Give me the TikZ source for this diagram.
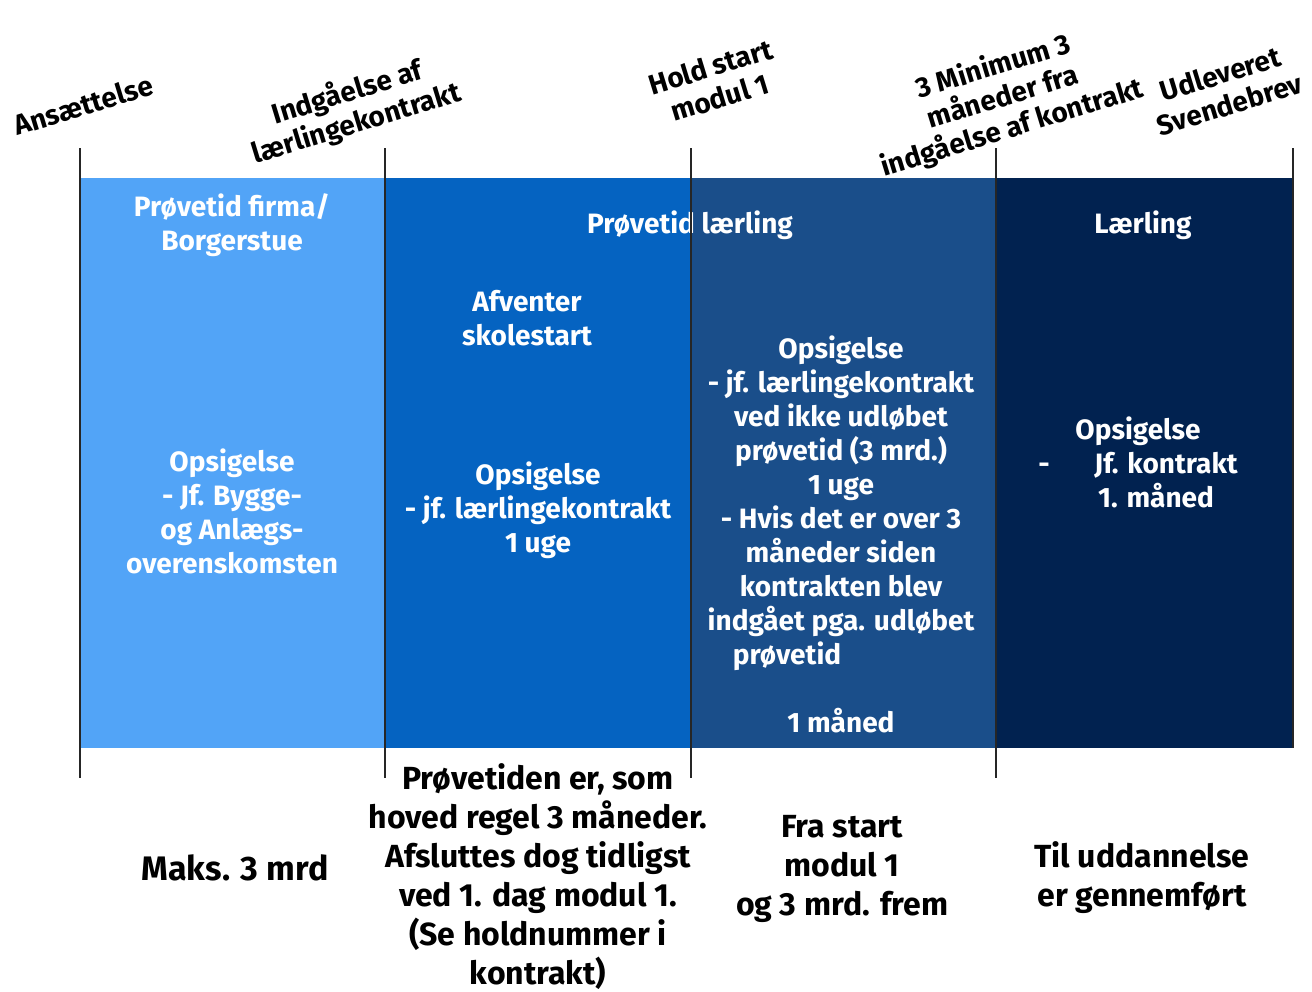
\documentclass[tikz,border=0pt]{standalone}
\usepackage{fontspec}
\setmainfont{Fira Sans}
\usetikzlibrary{positioning}

\definecolor{firmablue}{RGB}{82,164,247}
\definecolor{skoleblue}{RGB}{5,99,193}
\definecolor{modulblue}{RGB}{26,78,138}
\definecolor{laerlingblue}{RGB}{1,34,80}

\tikzset{
  intext/.style={text=white, font=\fontsize{14}{17}\selectfont\bfseries, align=center, inner sep=0pt},
  undertext/.style={text=black, font=\fontsize{16}{19.5}\selectfont\bfseries, align=center, inner sep=0pt},
  milestone/.style={text=black, font=\fontsize{14}{16}\selectfont\bfseries, align=center, rotate=17, inner sep=0pt},
  tick/.style={line width=0.9pt, black!85},
}

\begin{document}
\begin{tikzpicture}[x=0.5pt,y=-0.5pt]
    \useasboundingbox (0,0) rectangle (1312,991);
    % Points
    \coordinate (t0) at (80,148);
    \coordinate (t1) at (385,148);
    \coordinate (t2) at (691,148);
    \coordinate (t3) at (996,148);
    \coordinate (t4) at (1293,148);
    \coordinate (b0) at (80,778);
    \coordinate (b1) at (385,778);
    \coordinate (b2) at (691,778);
    \coordinate (b3) at (996,778);
    \coordinate (b4) at (1293,748);
    % Phases
    \fill[firmablue] (80,178) rectangle (385,748);
    \fill[skoleblue] (385,178) rectangle (691,748);
    \fill[modulblue] (691,178) rectangle (996,748);
    \fill[laerlingblue] (996,178) rectangle (1293,748);
    % Milestones
    \node[milestone] (ansat) at (83,105) {Ansættelse};
    \node[milestone] (kontrakt) at (352,108) {Indgåelse af\\lærlingekontrakt};
    \node[milestone] (holdstart) at (715,82) {Hold start\\modul 1};
    \node[milestone] (minimum) at (1003,98) {3 Minimum 3\\måneder fra\\indgåelse af kontrakt};
    \node[milestone] (svendebrev) at (1225,89) {Udleveret\\Svendebrev};
    % Labels in phases
    \node[intext] (firma) at (232,225) {Prøvetid firma/\\Borgerstue};
    \node[intext] (firmaops) at (232,511) {Opsigelse\\- Jf. Bygge-\\og Anlægs-\\overenskomsten};
    \node[intext] (proeve) at (690,225) {Prøvetid lærling};
    \node[intext] (afventer) at (527,318) {Afventer\\skolestart};
    \node[intext] (skoleops) at (538,510) {Opsigelse\\- jf. lærlingekontrakt\\1 uge};
    \node[intext] (modulops) at (841,534) {Opsigelse\\- jf. lærlingekontrakt\\ved ikke udløbet\\prøvetid (3 mrd.)\\1 uge\\- Hvis det er over 3\\måneder siden\\kontrakten blev\\indgået pga. udløbet\\prøvetid\hspace*{54pt}\mbox{}\\[17pt]1 måned};
    \node[intext] (laerling) at (1143,225) {Lærling};
    \node[intext] (laerlingops) at (1138,462) {Opsigelse\\-\hspace{1.6em}Jf. kontrakt\\\hspace*{18pt}1. måned};
    % Labels under phases
    \node[undertext, font=\fontsize{17}{20}\selectfont\bfseries] (maks) at (235,868) {Maks. 3 mrd};
    \node[undertext] (regel) at (538,877) {Prøvetiden er, som\\hoved regel 3 måneder.\\Afsluttes dog tidligst\\ved 1. dag modul 1.\\(Se holdnummer i\\kontrakt)};
    \node[undertext] (frastart) at (842,869) {Fra start\\modul 1\\og 3 mrd. frem};
    \node[undertext] (uddannelse) at (1142,878) {Til uddannelse\\er gennemført};
    % Segments
    \draw[tick] (t0) -- (b0);
    \draw[tick] (t1) -- (b1);
    \draw[tick] (t2) -- (b2);
    \draw[tick] (t3) -- (b3);
    \draw[tick] (t4) -- (b4);
\end{tikzpicture}
\end{document}
